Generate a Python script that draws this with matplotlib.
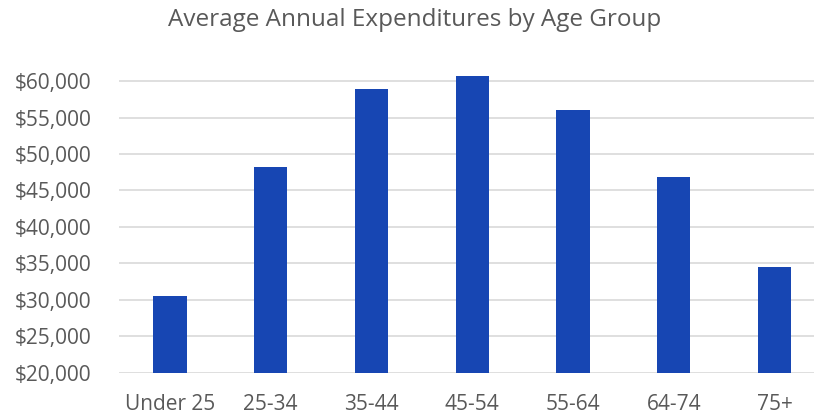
import matplotlib.pyplot as plt
from matplotlib.ticker import FuncFormatter

# Average annual expenditures per age group (USD)
age_groups = ['Under 25', '25-34', '35-44', '45-54', '55-64', '64-74', '75+']
expenditures = [30480, 48170, 58870, 60660, 56000, 46890, 34500]

text_color = '#595959'
bar_color = '#1746B3'
grid_color = '#D9D9D9'

plt.rcParams['font.family'] = ['Open Sans', 'DejaVu Sans']

fig = plt.figure(figsize=(8.14, 4.19), dpi=100)
ax = fig.add_axes([0.1468, 0.1105, 0.8667, 0.7134])

x = range(len(age_groups))
ax.bar(x, expenditures, width=0.33, color=bar_color, zorder=3)

ax.set_xlim(-0.5, len(age_groups) - 0.5)
ax.set_ylim(20000, 61000)
ax.set_yticks(range(20000, 60001, 5000))
ax.yaxis.set_major_formatter(FuncFormatter(lambda v, _: f'${v:,.0f}'))
ax.set_xticks(list(x))
ax.set_xticklabels(age_groups)

ax.grid(axis='y', color=grid_color, linewidth=1.2, zorder=0)
for side in ['top', 'right', 'left', 'bottom']:
    ax.spines[side].set_visible(False)
ax.tick_params(axis='both', length=0, labelsize=15, colors=text_color)
ax.tick_params(axis='x', pad=15)
ax.tick_params(axis='y', pad=20)

fig.text(0.509, 0.953, 'Average Annual Expenditures by Age Group',
         ha='center', va='center', fontsize=17.5, color=text_color)

fig.savefig('out.png', dpi=100)
